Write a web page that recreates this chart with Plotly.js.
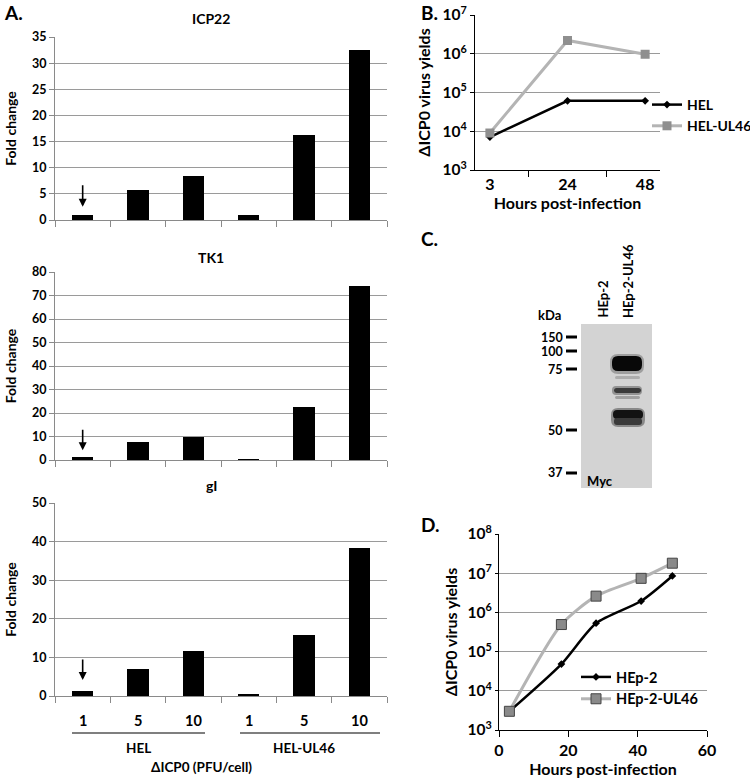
<!DOCTYPE html>
<html>
<head>
<meta charset="utf-8">
<script src="https://cdn.plot.ly/plotly-3.0.1.min.js"></script>
<style>html,body{margin:0;padding:0;background:#fff}#chart{width:750px;height:778px}</style>
</head>
<body>
<div id="chart"></div>
<script>
// ---------- DATA ----------
const doses = ["1", "5", "10", "1", "5", "10"];
const cellLines = ["HEL", "HEL-UL46"];
const icp22 = [1.0, 5.7, 8.5, 1.0, 16.2, 32.6];
const tk1 = [1.2, 7.5, 9.7, 0.6, 22.4, 74.2];
const gI = [1.3, 6.9, 11.6, 0.6, 15.9, 38.3];
const geneNames = ["ICP22", "TK1", "gI"];

const hoursB = ["3", "24", "48"];
const helB = [7.1e3, 6.1e4, 6.1e4];
const helUL46B = [9.0e3, 2.2e6, 9.7e5];

const hoursD = [3, 18, 28, 41, 50];
const hep2D = [3.0e3, 4.8e4, 5.3e5, 1.95e6, 8.5e6];
const hep2UL46D = [3.0e3, 4.9e5, 2.6e6, 7.4e6, 1.8e7];

const kdaLabels = ["150", "100", "75", "50", "37"];
const laneLabels = ["HEp-2", "HEp-2-UL46"];

// ---------- HELPERS ----------
const W = 750, H = 778;
const px = x => x / W;
const py = y => 1 - y / H;
const FONT = "Lato, 'Open Sans', 'DejaVu Sans', sans-serif";
const bf = (size, color) => ({family: FONT, size: size, color: color || "#000", weight: "bold"});

const idx = doses.map((_, i) => i);
const barSeries = [icp22, tk1, gI];

const traces = [];
barSeries.forEach((vals, k) => {
  const s = k === 0 ? "" : String(k + 1);
  traces.push({
    type: "bar", x: idx, y: vals, xaxis: "x" + s, yaxis: "y" + s,
    width: 0.38, marker: {color: "#000"}, showlegend: false, hoverinfo: "y"
  });
});

traces.push({
  type: "scatter", mode: "lines+markers", x: hoursB, y: helB, name: "HEL",
  xaxis: "x4", yaxis: "y4", legend: "legend",
  line: {color: "#000", width: 2.5}, marker: {symbol: "diamond", size: 6, color: "#000"}
});
traces.push({
  type: "scatter", mode: "lines+markers", x: hoursB, y: helUL46B, name: "HEL-UL46",
  xaxis: "x4", yaxis: "y4", legend: "legend",
  line: {color: "#b4b4b4", width: 3}, marker: {symbol: "square", size: 9, color: "#8f8f8f"}
});
traces.push({
  type: "scatter", mode: "lines+markers", x: hoursD, y: hep2D, name: "HEp-2",
  xaxis: "x5", yaxis: "y5", legend: "legend2",
  line: {color: "#000", width: 2.5, shape: "spline", smoothing: 0.7},
  marker: {symbol: "diamond", size: 6, color: "#000"}
});
traces.push({
  type: "scatter", mode: "lines+markers", x: hoursD, y: hep2UL46D, name: "HEp-2-UL46",
  xaxis: "x5", yaxis: "y5", legend: "legend2",
  line: {color: "#b4b4b4", width: 3, shape: "spline", smoothing: 0.7},
  marker: {symbol: "square", size: 10, color: "#8a8a8a", line: {color: "#444", width: 1}}
});

// ---------- LAYOUT ----------
const xA = [px(55), px(387)];
const yDomA = [[py(220), py(37)], [py(460), py(272)], [py(696), py(503)]];
const yMaxA = [35, 80, 50];
const dtickA = [5, 10, 10];

const layout = {
  width: W, height: H,
  margin: {l: 0, r: 0, t: 0, b: 0, autoexpand: false},
  paper_bgcolor: "#fff", plot_bgcolor: "rgba(0,0,0,0)",
  font: {family: FONT, color: "#000"},
  showlegend: true,
  bargap: 0,
  annotations: [], shapes: []
};

const boundaries = [-0.5, 0.5, 1.5, 2.5, 3.5, 4.5, 5.5];
for (let k = 0; k < 3; k++) {
  const s = k === 0 ? "" : String(k + 1);
  layout["xaxis" + s] = {
    domain: xA, anchor: "y" + s, range: [-0.5, 5.5],
    tickmode: "array", tickvals: boundaries, showticklabels: false,
    ticks: "outside", ticklen: 6, tickcolor: "#8a8a8a", tickwidth: 1,
    showline: true, linecolor: "#8a8a8a", linewidth: 1.2,
    showgrid: false, zeroline: false, fixedrange: true
  };
  layout["yaxis" + s] = {
    domain: yDomA[k], anchor: "x" + s, range: [0, yMaxA[k]], dtick: dtickA[k],
    showgrid: true, gridcolor: "#9a9a9a", gridwidth: 1,
    showline: true, linecolor: "#8a8a8a", linewidth: 1,
    ticks: "outside", ticklen: 5, tickcolor: "#8a8a8a",
    tickfont: bf(12.5), zeroline: false, fixedrange: true,
    title: {text: "Fold change", font: bf(14), standoff: 12}
  };
}

// Panel B
layout.xaxis4 = {
  domain: [px(475), px(660)], anchor: "y4", type: "category",
  tickson: "boundaries", ticks: "outside", ticklen: 6, tickcolor: "#000",
  showline: true, linecolor: "#000", linewidth: 1, showgrid: false,
  tickfont: bf(16), fixedrange: true,
  title: {text: "Hours post-infection", font: bf(16), standoff: 3}
};
layout.yaxis4 = {
  domain: [py(170), py(15)], anchor: "x4", type: "log", range: [3, 7],
  tickvals: [1e3, 1e4, 1e5, 1e6, 1e7],
  ticktext: ["10<sup>3</sup>", "10<sup>4</sup>", "10<sup>5</sup>", "10<sup>6</sup>", "10<sup>7</sup>"],
  showgrid: true, gridcolor: "#9a9a9a", showline: true, linecolor: "#000",
  ticks: "outside", ticklen: 4, tickcolor: "#000",
  tickfont: bf(15.5), fixedrange: true,
  title: {text: "ΔICP0 virus yields", font: bf(16), standoff: 8}
};

// Panel D
layout.xaxis5 = {
  domain: [px(499), px(707)], anchor: "y5", range: [0, 60], dtick: 20,
  ticks: "outside", ticklen: 6, tickcolor: "#000",
  showline: true, linecolor: "#000", linewidth: 1, showgrid: false, zeroline: false,
  tickfont: bf(16), fixedrange: true,
  title: {text: "Hours post-infection", font: bf(16), standoff: 4}
};
layout.yaxis5 = {
  domain: [py(730), py(534)], anchor: "x5", type: "log", range: [3, 8],
  tickvals: [1e3, 1e4, 1e5, 1e6, 1e7, 1e8],
  ticktext: ["10<sup>3</sup>", "10<sup>4</sup>", "10<sup>5</sup>", "10<sup>6</sup>", "10<sup>7</sup>", "10<sup>8</sup>"],
  showgrid: true, gridcolor: "#9a9a9a", showline: true, linecolor: "#000",
  ticks: "outside", ticklen: 3, tickcolor: "#000",
  tickfont: bf(15.5), fixedrange: true,
  title: {text: "ΔICP0 virus yields", font: bf(16), standoff: 6}
};

layout.legend = {
  x: px(647), y: py(89), xanchor: "left", yanchor: "top",
  bgcolor: "rgba(255,255,255,0)", font: bf(14), itemwidth: 30,
  tracegroupgap: 0
};
layout.legend2 = {
  x: px(576), y: py(661), xanchor: "left", yanchor: "top",
  bgcolor: "rgba(255,255,255,0)", font: bf(14.5), itemwidth: 30,
  tracegroupgap: 0
};

const A = layout.annotations, S = layout.shapes;
const paperText = (text, x, y, size, xanchor, yanchor, extra) => A.push(Object.assign({
  xref: "paper", yref: "paper", x: px(x), y: py(y), text: text, showarrow: false,
  font: bf(size), xanchor: xanchor || "center", yanchor: yanchor || "middle"
}, extra || {}));

// panel letters
paperText("A.", 2, 13, 19, "left");
paperText("B.", 419, 13, 19, "left");
paperText("C.", 419, 238, 19, "left");
paperText("D.", 419, 524, 19, "left");

// gene titles
const titleY = [18, 257, 486];
geneNames.forEach((g, k) => paperText(g, 211, titleY[k], 14));

// arrows over the first bar of each panel
const arrowCfg = [{ay: -31, standoff: 8}, {ay: -29, standoff: 7}, {ay: -33, standoff: 11}];
barSeries.forEach((vals, k) => {
  const s = k === 0 ? "" : String(k + 1);
  A.push({
    xref: "x" + s, yref: "y" + s, x: idx[0], y: vals[0], text: "",
    showarrow: true, arrowhead: 2, arrowsize: 1, arrowwidth: 1.6, arrowcolor: "#000",
    ax: 0, ay: arrowCfg[k].ay, standoff: arrowCfg[k].standoff
  });
});

// category labels under bottom panel
doses.forEach((d, i) => A.push({
  xref: "x3", yref: "paper", x: idx[i], y: py(720), text: d, showarrow: false,
  font: bf(14.5), xanchor: "center", yanchor: "middle"
}));
// group lines and labels
S.push({type: "line", xref: "paper", yref: "paper", x0: px(72), x1: px(205), y0: py(733), y1: py(733), line: {color: "#555", width: 1.3}});
S.push({type: "line", xref: "paper", yref: "paper", x0: px(240), x1: px(380), y0: py(733), y1: py(733), line: {color: "#555", width: 1.3}});
cellLines.forEach((c, g) => A.push({
  xref: "x3", yref: "paper", x: idx[g * 3 + 1], y: py(748), text: c, showarrow: false,
  font: bf(13.5), xanchor: "center", yanchor: "middle"
}));
paperText("ΔICP0 (PFU/cell)", 202, 767, 13.5);

// ---------- Panel C: western blot ----------
S.push({type: "rect", xref: "paper", yref: "paper", x0: px(581), x1: px(652), y0: py(324), y1: py(488),
  fillcolor: "#d3d3d3", line: {width: 0}, layer: "below"});
function roundRect(x0, x1, y0, y1, r) {
  const X = v => px(v).toFixed(5), Y = v => py(v).toFixed(5);
  return "M" + X(x0 + r) + "," + Y(y0) + " L" + X(x1 - r) + "," + Y(y0) +
    " Q" + X(x1) + "," + Y(y0) + " " + X(x1) + "," + Y(y0 + r) +
    " L" + X(x1) + "," + Y(y1 - r) +
    " Q" + X(x1) + "," + Y(y1) + " " + X(x1 - r) + "," + Y(y1) +
    " L" + X(x0 + r) + "," + Y(y1) +
    " Q" + X(x0) + "," + Y(y1) + " " + X(x0) + "," + Y(y1 - r) +
    " L" + X(x0) + "," + Y(y0 + r) +
    " Q" + X(x0) + "," + Y(y0) + " " + X(x0 + r) + "," + Y(y0) + " Z";
}
const bands = [
  {x0: 610, x1: 644, y0: 354, y1: 374, r: 8, c: "rgba(0,0,0,0.25)"},
  {x0: 612, x1: 642, y0: 356, y1: 371, r: 6, c: "#080808"},
  {x0: 615, x1: 640, y0: 376, y1: 379, r: 1.5, c: "#adadad"},
  {x0: 612, x1: 642, y0: 386, y1: 395, r: 4, c: "rgba(0,0,0,0.3)"},
  {x0: 614, x1: 641, y0: 388, y1: 393, r: 2.5, c: "#3a3a3a"},
  {x0: 615, x1: 640, y0: 396, y1: 399, r: 1.5, c: "#a0a0a0"},
  {x0: 611, x1: 645, y0: 408, y1: 427, r: 7, c: "rgba(0,0,0,0.35)"},
  {x0: 613, x1: 643, y0: 410, y1: 419, r: 4, c: "#121212"},
  {x0: 614, x1: 642, y0: 418, y1: 425, r: 3, c: "#3a3a3a"}
];
bands.forEach(b => S.push({type: "path", xref: "paper", yref: "paper",
  path: roundRect(b.x0, b.x1, b.y0, b.y1, b.r), fillcolor: b.c, line: {width: 0}}));
const kdaY = [337, 351, 369, 430, 473];
kdaLabels.forEach((k, i) => {
  S.push({type: "line", xref: "paper", yref: "paper", x0: px(566), x1: px(577), y0: py(kdaY[i]), y1: py(kdaY[i]),
    line: {color: "#000", width: 3}});
  paperText(k, 565, kdaY[i], 12.5, "right");
});
paperText("kDa", 536, 315, 13, "left");
paperText("Myc", 585, 481, 13, "left");
const laneX = [602, 628];
laneLabels.forEach((l, i) => paperText(l, laneX[i], 320, 13, "center", "bottom", {textangle: -90}));

Plotly.newPlot("chart", traces, layout, {displayModeBar: false, staticPlot: true});
</script>
</body>
</html>
